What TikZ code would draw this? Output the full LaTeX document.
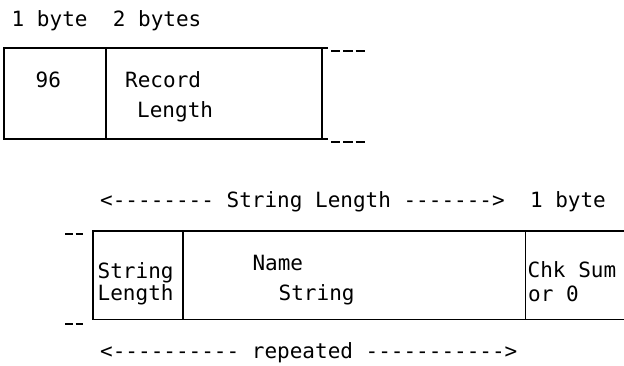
\documentclass[tikz,border=0pt]{standalone}
\usepackage{fontspec}
\setmonofont{DejaVu Sans Mono}
\begin{document}
\begin{tikzpicture}[x=1pt,y=-1pt,
  font=\ttfamily\fontsize{21}{25}\selectfont,
  cell/.style={draw, line width=1.4pt, inner sep=0pt, outer sep=0pt, anchor=north west},
  opencell/.style={inner sep=0pt, outer sep=0pt, anchor=north west},
  lbl/.style={anchor=base west, inner sep=0pt},
  rule/.style={line width=1.4pt},
  dshlong/.style={line width=1.4pt, dash pattern=on 9.3pt off 3pt},
  dshshort/.style={line width=1.4pt, dash pattern=on 7.5pt off 3pt}]
\useasboundingbox (0,0) rectangle (624,366);

% ---- top record ----
\node[lbl] (sizes) at (11.5,27) {1~byte~~2~bytes};
\node[cell, minimum width=102pt, minimum height=91pt] (c96) at (4,48) {};
\node[cell, minimum width=216pt, minimum height=91pt] (rl) at (106,48) {};
\node[lbl] (t96) at (35.5,88) {96};
\node[lbl] (trec) at (125,88) {Record};
\node[lbl] (tlen) at (137,118) {Length};
\draw[rule] (rl.north east) -- ++(6,0);
\draw[rule] (rl.south east) -- ++(6,0);
\draw[dshlong] ([shift={(9,3)}]rl.north east) -- ++(34,0);
\draw[dshlong] ([shift={(9,3)}]rl.south east) -- ++(34,0);

% ---- repeated part ----
\node[lbl] (slhead) at (100,207.7) {<--------~String~Length~------->~~1~byte};
\node[cell, minimum width=90pt, minimum height=88.5pt] (sl) at (93,231) {};
\node[cell, minimum width=342.5pt, minimum height=88.5pt] (ns) at (183,231) {};
\node[opencell, minimum width=98.5pt, minimum height=88.5pt] (chk) at (525.5,231) {};
\draw[rule] (ns.north east) -- (chk.north east);
\draw[rule] (ns.south east) -- (chk.south east);
\draw[dshshort] ([shift={(-28,3)}]sl.north west) -- ++(18,0);
\draw[dshshort] ([shift={(-28,4.5)}]sl.south west) -- ++(18,0);

\node[lbl] (ts1) at (97.5,278) {String};
\node[lbl] (tl1) at (97.5,300) {Length};
\node[lbl] (tname) at (252.3,270) {Name};
\node[lbl] (ts2) at (278.5,301) {String};
\node[lbl] (tchk) at (527.5,277) {Chk~Sum};
\node[lbl] (tor) at (528,301.5) {or~0};

\node[lbl] (rep) at (100,358) {<----------~repeated~----------->};
\end{tikzpicture}
\end{document}
